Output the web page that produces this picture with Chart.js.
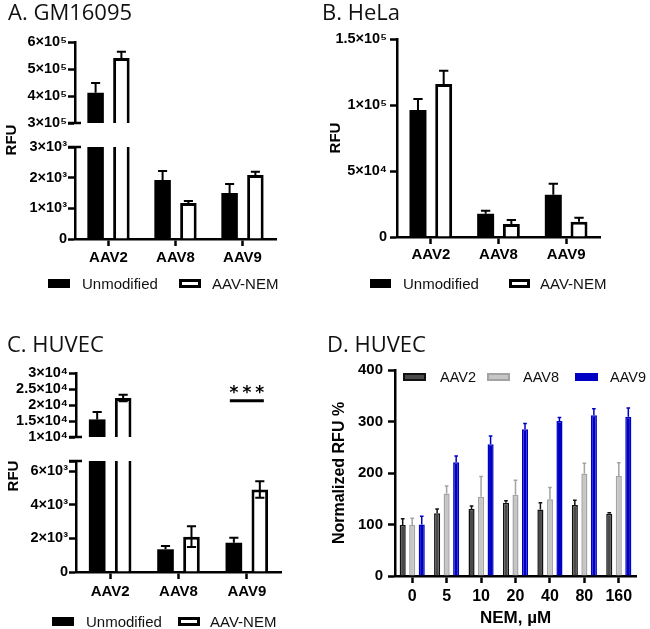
<!DOCTYPE html>
<html>
<head>
<meta charset="utf-8">
<script src="https://cdn.jsdelivr.net/npm/chart.js@4.4.0/dist/chart.umd.min.js"></script>
<style>
  body { margin: 0; background: #fff; }
  #fig { position: relative; width: 650px; height: 629px; overflow: hidden; }
  canvas { position: absolute; }
  .title { position: absolute; font-family: 'Open Sans', sans-serif; font-size: 22px; line-height: 1; color: #111; white-space: nowrap; }
  .lg { position: absolute; font-family: 'Liberation Sans', Arial, sans-serif; font-size: 15px; line-height: 1; color: #111; white-space: nowrap; }
  .sw { position: absolute; box-sizing: border-box; }
  .ytitle { position: absolute; font-family: 'Liberation Sans', Arial, sans-serif; font-weight: bold; font-size: 15px; line-height: 1; white-space: nowrap;
            transform: translate(-50%, -50%) rotate(-90deg); }
</style>
</head>
<body>
<div id="fig">
  <canvas id="aHi"></canvas>
  <canvas id="aLo"></canvas>
  <canvas id="bChart"></canvas>
  <canvas id="cHi"></canvas>
  <canvas id="cLo"></canvas>
  <canvas id="dChart"></canvas>
  <div class="title" style="left:8px;top:0px">A. GM16095</div>
  <div class="title" style="left:322px;top:0px">B. HeLa</div>
  <div class="title" style="left:7px;top:332px">C. HUVEC</div>
  <div class="title" style="left:327px;top:332px">D. HUVEC</div>
  <div class="ytitle" style="left:10px;top:140px">RFU</div>
  <div class="ytitle" style="left:12px;top:476px">RFU</div>
</div>
<script>
// categories / series
const groups = ['AAV2', 'AAV8', 'AAV9'];
const seriesNames = ['Unmodified', 'AAV-NEM'];

// A. GM16095 (RFU, mean and error)
const gmUnmod = [412000, 1920, 1500];
const gmUnmodErr = [36000, 300, 290];
const gmNem = [541000, 1170, 2090];
const gmNemErr = [23000, 70, 100];

// B. HeLa
const helaUnmod = [96200, 17600, 32000];
const helaUnmodErr = [8400, 2200, 8400];
const helaNem = [116000, 9900, 11500];
const helaNemErr = [10000, 3000, 3000];

// C. HUVEC
const huvecUnmod = [15500, 1350, 1740];
const huvecUnmodErr = [2300, 200, 300];
const huvecNem = [22200, 2100, 4910];
const huvecNemErr = [1000, 620, 490];
const sigLabel = '***';
const sigGroup = 'AAV9';
const sigLevel = 21350;

// D. HUVEC, normalized RFU % vs NEM dose
const nemDose = ['0', '5', '10', '20', '40', '80', '160'];
const dNames = ['AAV2', 'AAV8', 'AAV9'];
const dAAV2 = [99, 122, 130, 142, 129, 138, 121];
const dAAV2Err = [12, 8, 6, 4, 13, 9, 2];
const dAAV8 = [99, 160, 154, 158, 149, 199, 194];
const dAAV8Err = [13, 15, 39, 28, 23, 20, 26];
const dAAV9 = [100, 221, 256, 285, 301, 312, 309];
const dAAV9Err = [16, 12, 16, 11, 7, 13, 17];

Chart.defaults.font.family = "'Liberation Sans', Arial, sans-serif";
Chart.defaults.color = '#000';

const SUP = { '0': '⁰', '1': '¹', '2': '²', '3': '³', '4': '⁴', '5': '⁵', '6': '⁶', '7': '⁷', '8': '⁸', '9': '⁹' };
function sci(v) {
  if (v === 0) return '0';
  const e = Math.floor(Math.log10(v) + 1e-9);
  const m = +(v / Math.pow(10, e)).toFixed(2);
  return m + '×10' + String(e).split('').map(d => SUP[d]).join('');
}

// error bars drawn from the dataset's errors array
const errorBars = {
  id: 'errorBars',
  afterDatasetsDraw(chart, args, opts) {
    const { ctx, chartArea: a } = chart;
    const y = chart.scales.y;
    ctx.save();
    ctx.beginPath();
    ctx.rect(a.left, a.top - 2, a.right - a.left, a.bottom - a.top + 2);
    ctx.clip();
    chart.data.datasets.forEach((ds, i) => {
      const meta = chart.getDatasetMeta(i);
      meta.data.forEach((bar, j) => {
        const v = ds.data[j], e = ds.errors[j];
        const hi = y.getPixelForValue(v + e);
        const lo = ds.errBoth ? y.getPixelForValue(v - e) : bar.y;
        const c = bar.width * opts.cap / 2;
        ctx.strokeStyle = ds.errColor || '#000';
        ctx.lineWidth = opts.width;
        ctx.beginPath();
        ctx.moveTo(bar.x, lo); ctx.lineTo(bar.x, hi);
        ctx.moveTo(bar.x - c, hi); ctx.lineTo(bar.x + c, hi);
        if (ds.errBoth) { ctx.moveTo(bar.x - c, lo); ctx.lineTo(bar.x + c, lo); }
        ctx.stroke();
      });
    });
    ctx.restore();
  }
};

// little cross mark where the y axis is cut
const axisBreak = {
  id: 'axisBreak',
  afterDraw(chart, args, opts) {
    if (!opts.edge) return;
    const { ctx, chartArea: a } = chart;
    const yy = opts.edge === 'top' ? a.top : a.bottom;
    ctx.save();
    ctx.strokeStyle = '#000';
    ctx.lineWidth = 2.5;
    ctx.beginPath();
    ctx.moveTo(a.left - 7, yy); ctx.lineTo(a.left + 6, yy);
    ctx.stroke();
    ctx.restore();
  }
};

// significance bar over a group
const sigMark = {
  id: 'sigMark',
  afterDraw(chart, args, opts) {
    if (!opts.text) return;
    const { ctx } = chart;
    const x = chart.scales.x.getPixelForValue(chart.data.labels.indexOf(opts.group));
    const y = chart.scales.y.getPixelForValue(opts.value);
    ctx.save();
    ctx.strokeStyle = '#000';
    ctx.lineWidth = 3;
    ctx.beginPath();
    ctx.moveTo(x - 17, y); ctx.lineTo(x + 17, y);
    ctx.stroke();
    ctx.font = "bold 17px 'DejaVu Sans'";
    ctx.letterSpacing = '4px';
    ctx.textAlign = 'center';
    ctx.textBaseline = 'alphabetic';
    ctx.fillStyle = '#000';
    ctx.fillText(opts.text, x + 2, y - 3);
    ctx.restore();
  }
};

function barPanel(o) {
  const cv = document.getElementById(o.id);
  cv.width = o.box.w;
  cv.height = o.box.h;
  cv.style.left = o.box.x + 'px';
  cv.style.top = o.box.y + 'px';
  const a = o.area;
  const yc = o.y;
  return new Chart(cv, {
    type: 'bar',
    data: { labels: o.labels, datasets: o.datasets },
    options: {
      responsive: false,
      animation: false,
      layout: {
        padding: {
          left: 0,
          top: a.t - o.box.y,
          right: o.box.x + o.box.w - a.r,
          bottom: o.showX ? 0 : o.box.y + o.box.h - a.b
        }
      },
      datasets: { bar: { categoryPercentage: o.catPct, barPercentage: o.barPct, clip: 0 } },
      plugins: {
        legend: { display: false },
        tooltip: { enabled: false },
        errorBars: o.err,
        axisBreak: { edge: o.breakEdge || '' },
        sigMark: o.sig || { text: '' }
      },
      scales: {
        x: {
          display: o.showX,
          grid: { offset: false, drawOnChartArea: false, drawTicks: true, tickLength: 7, tickWidth: 2.5, tickColor: '#000' },
          border: { display: true, color: '#000', width: 2.5 },
          ticks: { color: '#000', font: { size: o.xFont, weight: 'bold' }, padding: o.xPad, autoSkip: false, maxRotation: 0 },
          title: o.xTitle ? { display: true, text: o.xTitle, color: '#000', font: { size: 17, weight: 'bold' }, padding: { top: 0, bottom: 0 } } : { display: false },
          afterFit: s => { s.height = o.box.y + o.box.h - a.b; }
        },
        y: {
          min: yc.min,
          max: yc.max,
          grid: { drawOnChartArea: false, drawTicks: true, tickLength: 7, tickWidth: 2.5, tickColor: '#000' },
          border: { display: true, color: '#000', width: 2.5 },
          ticks: {
            color: '#000', font: { size: yc.font, weight: 'bold' }, padding: yc.pad, autoSkip: false,
            callback: v => ((v - yc.min) % yc.step === 0 ? yc.fmt(v) : '')
          },
          afterBuildTicks: s => {
            const t = [];
            for (let v = yc.min; v <= yc.max + 1e-6; v += yc.step) t.push({ value: v });
            if (t[t.length - 1].value < yc.max) t.push({ value: yc.max });
            s.ticks = t;
          },
          title: yc.title ? { display: true, text: yc.title, color: '#000', font: { size: yc.titleFont, weight: 'bold' }, padding: { top: yc.titlePad, bottom: 0 } } : { display: false },
          afterFit: s => { s.width = a.l - o.box.x; }
        }
      }
    },
    plugins: [errorBars, axisBreak, sigMark]
  });
}

function pairSets(unmod, unmodErr, nem, nemErr, nemBoth) {
  return [
    { label: seriesNames[0], data: unmod, errors: unmodErr, backgroundColor: '#000', borderColor: '#000', borderWidth: 0 },
    { label: seriesNames[1], data: nem, errors: nemErr, errBoth: nemBoth, backgroundColor: '#fff', borderColor: '#000', borderWidth: 3 }
  ];
}

const pairErr = { cap: 0.55, width: 2 };
const tickFont = 14.5;

// A: broken axis, two stacked pieces
const aSets = pairSets(gmUnmod, gmUnmodErr, gmNem, gmNemErr, false);
barPanel({ id: 'aHi', box: { x: 0, y: 0, w: 330, h: 143 }, area: { l: 75, t: 42, r: 276, b: 133 },
  labels: groups, datasets: pairSets(gmUnmod, gmUnmodErr, gmNem, gmNemErr, false), showX: false,
  catPct: 0.77, barPct: 0.64, err: pairErr, breakEdge: 'bottom',
  y: { min: 300000, max: 600000, step: 100000, fmt: sci, font: tickFont, pad: 1 } });
barPanel({ id: 'aLo', box: { x: 0, y: 137, w: 330, h: 133 }, area: { l: 75, t: 147, r: 276, b: 239 },
  labels: groups, datasets: aSets, showX: true, xFont: 15, xPad: 3,
  catPct: 0.77, barPct: 0.64, err: pairErr, breakEdge: 'top',
  y: { min: 0, max: 3000, step: 1000, fmt: sci, font: tickFont, pad: 1 } });

// B
const bSets = pairSets(helaUnmod, helaUnmodErr, helaNem, helaNemErr, false);
barPanel({ id: 'bChart', box: { x: 320, y: 0, w: 330, h: 270 }, area: { l: 397, t: 39, r: 600, b: 237 },
  labels: groups, datasets: bSets, showX: true, xFont: 15, xPad: 2,
  catPct: 0.76, barPct: 0.66, err: pairErr,
  y: { min: 0, max: 150000, step: 50000, fmt: sci, font: tickFont, pad: 3, title: 'RFU', titleFont: 15, titlePad: 7 } });

// C: broken axis
const cSets = pairSets(huvecUnmod, huvecUnmodErr, huvecNem, huvecNemErr, true);
barPanel({ id: 'cHi', box: { x: 0, y: 355, w: 330, h: 102 }, area: { l: 76, t: 373, r: 281, b: 447 },
  labels: groups, datasets: pairSets(huvecUnmod, huvecUnmodErr, huvecNem, huvecNemErr, true), showX: false,
  catPct: 0.76, barPct: 0.64, err: pairErr, breakEdge: 'bottom',
  sig: { text: sigLabel, group: sigGroup, value: sigLevel },
  y: { min: 10000, max: 30000, step: 5000, fmt: sci, font: tickFont, pad: 1 } });
barPanel({ id: 'cLo', box: { x: 0, y: 451, w: 330, h: 160 }, area: { l: 76, t: 461, r: 281, b: 572 },
  labels: groups, datasets: cSets, showX: true, xFont: 15, xPad: 4,
  catPct: 0.76, barPct: 0.64, err: pairErr, breakEdge: 'top',
  y: { min: 0, max: 6600, step: 2000, fmt: sci, font: tickFont, pad: 1 } });

// D
const dColors = [
  { bg: '#4a4a4a', bd: '#111' },
  { bg: '#c6c6c6', bd: '#a3a3a3' },
  { bg: '#0000c4', bd: '#0000c4' }
];
const dSets = [[dAAV2, dAAV2Err], [dAAV8, dAAV8Err], [dAAV9, dAAV9Err]].map((s, i) => ({
  label: dNames[i], data: s[0], errors: s[1], errColor: dColors[i].bd,
  backgroundColor: dColors[i].bg, borderColor: dColors[i].bd, borderWidth: 1.5
}));
barPanel({ id: 'dChart', box: { x: 320, y: 355, w: 330, h: 274 }, area: { l: 395, t: 370, r: 636, b: 576 },
  labels: nemDose, datasets: dSets, showX: true, xFont: 16, xPad: 4, xTitle: 'NEM, µM',
  catPct: 0.83, barPct: 0.64, err: { cap: 0.6, width: 1.5 },
  y: { min: 0, max: 400, step: 100, fmt: v => String(v), font: 15, pad: 5, title: 'Normalized RFU %', titleFont: 16, titlePad: 10 } });

// HTML legends built from the datasets
const fig = document.getElementById('fig');
function legend(sets, spots, cy, sw, font) {
  sets.forEach((ds, i) => {
    const s = document.createElement('span');
    s.className = 'sw';
    Object.assign(s.style, {
      left: spots[i][0] + 'px', top: (cy - sw.h / 2) + 'px', width: sw.w + 'px', height: sw.h + 'px',
      background: ds.backgroundColor, border: (ds.borderWidth ? sw.bw : 0) + 'px solid ' + ds.borderColor
    });
    fig.appendChild(s);
    const t = document.createElement('span');
    t.className = 'lg';
    t.textContent = ds.label;
    Object.assign(t.style, { left: spots[i][1] + 'px', top: (cy - font / 2) + 'px', fontSize: font + 'px' });
    fig.appendChild(t);
  });
}
legend(aSets, [[48, 82], [179, 212]], 283, { w: 22, h: 9, bw: 3 }, 15);
legend(bSets, [[370, 403], [509, 540]], 283, { w: 21, h: 9, bw: 3 }, 15);
legend(cSets, [[52, 86], [178, 210]], 621, { w: 22, h: 9, bw: 3 }, 15);
legend(dSets, [[403, 440], [487, 523], [575, 610]], 377, { w: 23, h: 8, bw: 2 }, 14.5);
</script>
</body>
</html>
